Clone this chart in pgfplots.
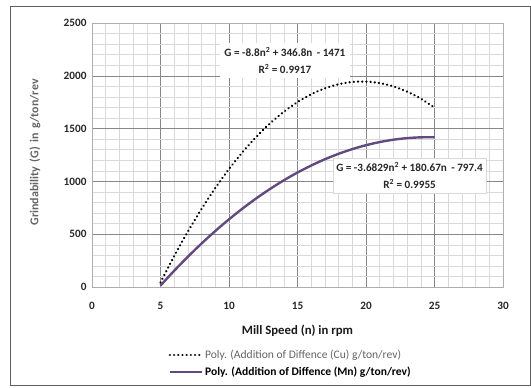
\documentclass[border=0pt]{standalone}
\usepackage{pgfplots}
\pgfplotsset{compat=1.18}
\usepackage{fontspec}
\setmainfont{Carlito}
\definecolor{mnpurple}{RGB}{98,74,128}
\definecolor{majgrid}{RGB}{135,135,135}
\definecolor{mingrid}{RGB}{217,217,217}
\definecolor{framegray}{RGB}{95,95,95}
\definecolor{labgray}{RGB}{100,100,100}
\begin{document}
\begin{tikzpicture}
\begin{axis}[
  scale only axis,
  width=411bp, height=264bp,
  xmin=0, xmax=30, ymin=0, ymax=2500,
  xtick={0,5,...,30}, ytick={0,500,...,2500},
  minor x tick num=4, minor y tick num=4,
  grid=both,
  major grid style={majgrid, line width=0.6pt},
  minor grid style={mingrid, line width=0.5pt},
  axis line style={draw=mingrid!80!black, line width=0.6pt},
  tick style={draw=none},
  xticklabel={\textbf{\pgfmathprintnumber[assume math mode=true]{\tick}}},
  yticklabel={\textbf{\pgfmathprintnumber[assume math mode=true,set thousands separator={}]{\tick}}},
  tick label style={font=\fontsize{11.3}{13}\selectfont, text=black!85},
  xticklabel style={yshift=-12bp},
  yticklabel style={xshift=-2bp},
  xlabel={Mill Speed (n) in rpm},
  xlabel style={at={(axis description cs:0.5,-0.167)}, anchor=center,
    font=\fontsize{12.8}{14}\selectfont\bfseries, text=black!90},
  ylabel={Grindability\, (G)\, in\, g/ton/rev},
  ylabel style={at={(axis description cs:-0.139,0.51)}, anchor=center,
    font=\fontsize{12}{13}\selectfont\bfseries, text=labgray},
  legend style={at={(0.186,-0.222)}, anchor=north west, draw=none, fill=none,
    font=\fontsize{11.6}{13.5}\selectfont, row sep=3.5bp,
    legend cell align=left, inner xsep=0pt},
  legend image code/.code={\draw[#1] (0bp,0bp) -- (32bp,0bp);},
]
% Cu trend: G = -8.8n^2 + 346.8n - 1471
\addplot[black, line width=2.5pt, line cap=round, dash pattern=on 0.01pt off 4.2pt, smooth]
  coordinates {(5,43) (6,293) (7,525.4) (8,740.2) (9,937.4) (10,1117) (11,1279)
    (12,1423.4) (13,1550.2) (14,1659.4) (15,1751) (16,1825) (17,1881.4) (18,1920.2)
    (19,1941.4) (20,1945) (21,1931) (22,1899.4) (23,1850.2) (24,1783.4) (25,1699)};
\addlegendentry{\textcolor{labgray}{Poly. (Addition of Diffence (Cu) g/ton/rev)}}
% Mn trend: G = -3.6829n^2 + 180.67n - 797.4
\addplot[mnpurple, line width=2.4pt, smooth]
  coordinates {(5,13.9) (6,154.0) (7,286.8) (8,412.3) (9,530.3) (10,641.0) (11,744.3)
    (12,840.3) (13,928.9) (14,1010.1) (15,1084.0) (16,1150.5) (17,1209.6) (18,1261.4)
    (19,1305.8) (20,1342.8) (21,1372.5) (22,1394.8) (23,1409.8) (24,1417.3) (25,1417.5)};
\addlegendentry{\bfseries Poly. (Addition of Diffence (Mn) g/ton/rev)}
% trendline equations
\node[fill=white, minimum width=130bp, minimum height=35bp, align=center,
  font=\fontsize{11.2}{16.5}\selectfont\bfseries, text=black!85]
  at (axis cs:14.08,2145) {G = -8.8n\textsuperscript{2} + 346.8n\, - 1471\\R\textsuperscript{2} = 0.9917};
\node[fill=white, draw=mingrid, minimum width=153bp, minimum height=35bp, align=center,
  font=\fontsize{11.2}{16.5}\selectfont\bfseries, text=black!85]
  at (axis cs:23.18,1055) {G = -3.6829n\textsuperscript{2} + 180.67n\, - 797.4\\R\textsuperscript{2} = 0.9955};
\end{axis}
\draw[framegray, line width=0.8pt] (-82bp,-98.5bp) rectangle (438.5bp,281bp);
\path[use as bounding box] (-92bp,-101bp) rectangle (439bp,287bp);
\end{tikzpicture}
\end{document}
